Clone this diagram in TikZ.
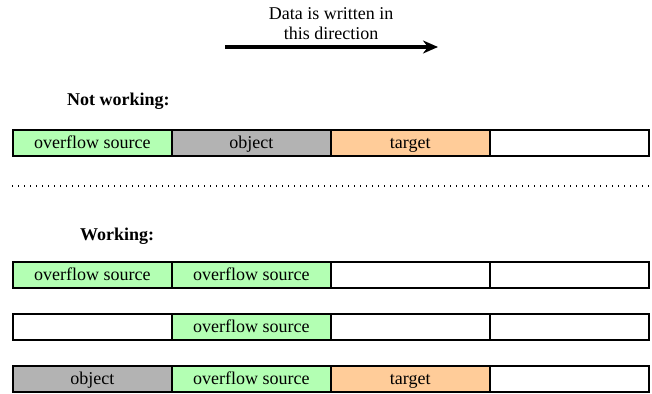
\documentclass[tikz,border=0pt]{standalone}
\usepackage{fontspec}
\setmainfont{Liberation Serif}
\usetikzlibrary{arrows.meta}
\definecolor{srcgreen}{HTML}{B3FFB3}
\definecolor{objgray}{HTML}{B3B3B3}
\definecolor{tgtorange}{HTML}{FFCC99}
\begin{document}
\begin{tikzpicture}[x=1pt,y=-1pt,
  cell/.style={draw=black, line width=1.6pt, minimum width=159pt, minimum height=26pt,
    inner sep=0pt, anchor=north west, text height=13pt, text depth=1pt,
    font=\fontsize{18}{21}\selectfont},
  src/.style={cell, fill=srcgreen},
  obj/.style={cell, fill=objgray},
  tgt/.style={cell, fill=tgtorange},
  emp/.style={cell, fill=white},
  heading/.style={font=\fontsize{18}{21}\selectfont\bfseries, anchor=base west, inner sep=0pt},
  caption/.style={font=\fontsize{18}{20.5}\selectfont, align=center, inner sep=0pt}]
\useasboundingbox (0,0) rectangle (652,393);

% direction label and arrow
\node[caption, anchor=north] (cap) at (331,7) {Data is written in\\this direction};
\coordinate (arrS) at (225,47);
\coordinate (arrE) at (438,47);
\draw[line width=3.5pt, -{Stealth[length=15pt,width=13pt]}] (arrS) -- (arrE);

% not working
\node[heading] (nw) at (67,106) {Not working:};
\node[src] (a1) at (12,129) {overflow source};
\node[obj] (a2) at (171,129) {object};
\node[tgt] (a3) at (330,129) {target};
\node[emp] (a4) at (489,129) {};

% separator
\coordinate (dotL) at (12,186);
\coordinate (dotR) at (650,186);
\draw[line width=1.4pt, dash pattern=on 1.4pt off 4.6pt] (dotL) -- (dotR);

% working
\node[heading] (w) at (80,240) {Working:};
\node[src] (b1) at (12,261) {overflow source};
\node[src] (b2) at (171,261) {overflow source};
\node[emp] (b3) at (330,261) {};
\node[emp] (b4) at (489,261) {};

\node[emp] (c1) at (12,313) {};
\node[src] (c2) at (171,313) {overflow source};
\node[emp] (c3) at (330,313) {};
\node[emp] (c4) at (489,313) {};

\node[obj] (d1) at (12,365) {object};
\node[src] (d2) at (171,365) {overflow source};
\node[tgt] (d3) at (330,365) {target};
\node[emp] (d4) at (489,365) {};
\end{tikzpicture}
\end{document}
